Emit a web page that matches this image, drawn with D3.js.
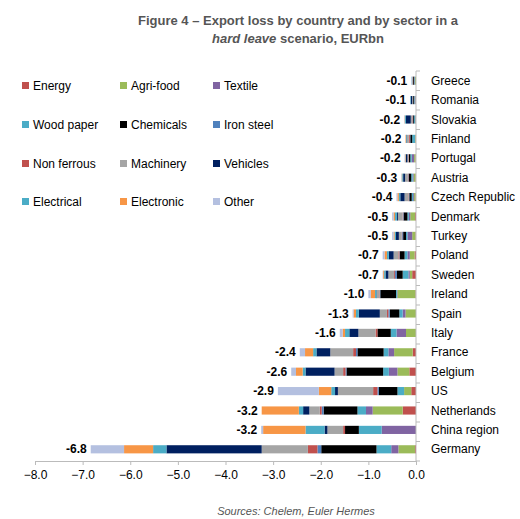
<!DOCTYPE html><html><head><meta charset="utf-8"><script src="https://cdn.jsdelivr.net/npm/d3@7"></script>
<style>body{margin:0;background:#fff}</style></head><body><svg id="c" width="520" height="519"></svg><script>
const countries=["Greece","Romania","Slovakia","Finland","Portugal","Austria","Czech Republic","Denmark","Turkey","Poland","Sweden","Ireland","Spain","Italy","France","Belgium","US","Netherlands","China region","Germany"];
const totals=[-0.1,-0.1,-0.2,-0.2,-0.2,-0.3,-0.4,-0.5,-0.5,-0.7,-0.7,-1.0,-1.3,-1.6,-2.4,-2.6,-2.9,-3.2,-3.2,-6.8];
const sectors=["Energy","Agri-food","Textile","Wood paper","Chemicals","Iron steel","Non ferrous","Machinery","Vehicles","Electrical","Electronic","Other"];
const colors=["#c0504d","#9bbb59","#8064a2","#4bacc6","#000000","#4f81bd","#c0504d","#a5a5a5","#002060","#4bacc6","#f79646","#b4c0e0"];
// values per country, in sector order (EURbn)
const values=[
[0.00,0.02,0.01,0.01,0.02,0.00,0.01,0.01,0.00,0.01,0.00,0.01],
[0.00,0.01,0.02,0.01,0.02,0.00,0.00,0.02,0.03,0.01,0.00,0.00],
[0.00,0.01,0.01,0.02,0.02,0.01,0.01,0.03,0.10,0.02,0.01,0.01],
[0.01,0.01,0.00,0.06,0.04,0.01,0.02,0.04,0.01,0.01,0.01,0.00],
[0.01,0.03,0.05,0.03,0.03,0.00,0.01,0.02,0.03,0.01,0.01,0.01],
[0.01,0.04,0.02,0.03,0.05,0.01,0.01,0.06,0.04,0.02,0.01,0.01],
[0.01,0.03,0.02,0.03,0.05,0.01,0.01,0.08,0.09,0.03,0.03,0.02],
[0.02,0.10,0.03,0.03,0.08,0.01,0.01,0.10,0.02,0.04,0.03,0.03],
[0.01,0.07,0.10,0.03,0.06,0.02,0.01,0.06,0.06,0.03,0.02,0.03],
[0.03,0.10,0.05,0.06,0.10,0.01,0.02,0.10,0.10,0.04,0.05,0.04],
[0.08,0.05,0.03,0.12,0.12,0.04,0.02,0.12,0.06,0.03,0.02,0.01],
[0.01,0.38,0.01,0.02,0.33,0.01,0.01,0.05,0.01,0.03,0.09,0.05],
[0.00,0.22,0.06,0.07,0.20,0.03,0.03,0.15,0.44,0.06,0.05,0.02],
[0.00,0.21,0.20,0.12,0.28,0.00,0.04,0.36,0.19,0.09,0.05,0.06],
[0.07,0.39,0.12,0.10,0.55,0.03,0.06,0.48,0.29,0.07,0.17,0.11],
[0.14,0.25,0.18,0.12,0.77,0.02,0.05,0.18,0.61,0.06,0.14,0.10],
[0.10,0.15,0.00,0.14,0.39,0.03,0.09,0.74,0.06,0.08,0.26,0.86],
[0.28,0.63,0.14,0.18,0.71,0.04,0.04,0.22,0.13,0.09,0.78,0.00],
[0.00,0.00,0.72,0.48,0.29,0.00,0.04,0.33,0.06,0.40,0.89,0.04],
[0.02,0.35,0.15,0.31,1.16,0.08,0.20,0.97,2.00,0.28,0.61,0.70]];
const xTicks=[-8,-7,-6,-5,-4,-3,-2,-1,0];
const svg=d3.select("#c");
const F="Arial, Liberation Sans, sans-serif";
svg.append("text").attr("x",298).attr("y",25).attr("text-anchor","middle").attr("font-family",F).attr("font-weight","bold").attr("font-size",13).attr("fill","#555").text("Figure 4 – Export loss by country and by sector in a");
const t2=svg.append("text").attr("x",298).attr("y",43).attr("text-anchor","middle").attr("font-family",F).attr("font-weight","bold").attr("font-size",13).attr("fill","#555");
t2.append("tspan").attr("font-style","italic").text("hard leave");t2.append("tspan").text(" scenario, EURbn");
const x=d3.scaleLinear().domain([-8,0]).range([35,416]);
const y=d3.scaleBand().domain(countries).range([71,459]).paddingInner(0.58).paddingOuter(0.29);
countries.forEach((c,i)=>{let acc=0;values[i].forEach((v,j)=>{svg.append("rect").attr("x",x(-(acc+v))).attr("width",x(0)-x(-v)).attr("y",y(c)).attr("height",y.bandwidth()).attr("fill",colors[j]);acc+=v;});
svg.append("text").attr("x",x(-acc)-4).attr("y",y(c)+y.bandwidth()/2+4).attr("text-anchor","end").attr("font-family",F).attr("font-weight","bold").attr("font-size",12).text(totals[i].toFixed(1));
svg.append("text").attr("x",431).attr("y",y(c)+y.bandwidth()/2+4).attr("font-family",F).attr("font-size",12).text(c);});
svg.append("line").attr("x1",416).attr("x2",416).attr("y1",71).attr("y2",461).attr("stroke","#bbb");
d3.range(21).forEach(k=>{const yy=71+k*(390/20);svg.append("line").attr("x1",416).attr("x2",420).attr("y1",yy).attr("y2",yy).attr("stroke","#bbb");});
const ax=svg.append("g").attr("transform","translate(0,461)").call(d3.axisBottom(x).tickValues(xTicks).tickFormat(d3.format(".1f")).tickSize(4));
ax.select(".domain").attr("stroke","#bbb");ax.selectAll("line").attr("stroke","#bbb");
ax.selectAll("text").attr("font-family",F).attr("font-size",12).attr("fill","#000").attr("dy","0.9em");
const lx=[22,120,213],ly=[86,125,164,202];
sectors.forEach((s,i)=>{const cx=lx[i%3],cy=ly[Math.floor(i/3)];svg.append("rect").attr("x",cx).attr("y",cy-4).attr("width",7).attr("height",7).attr("fill",colors[i]);
svg.append("text").attr("x",cx+11).attr("y",cy+4).attr("font-family",F).attr("font-size",12).text(s);});
svg.append("text").attr("x",296).attr("y",515).attr("text-anchor","middle").attr("font-family",F).attr("font-style","italic").attr("font-size",11).attr("fill","#555").text("Sources: Chelem, Euler Hermes");
</script></body></html>
